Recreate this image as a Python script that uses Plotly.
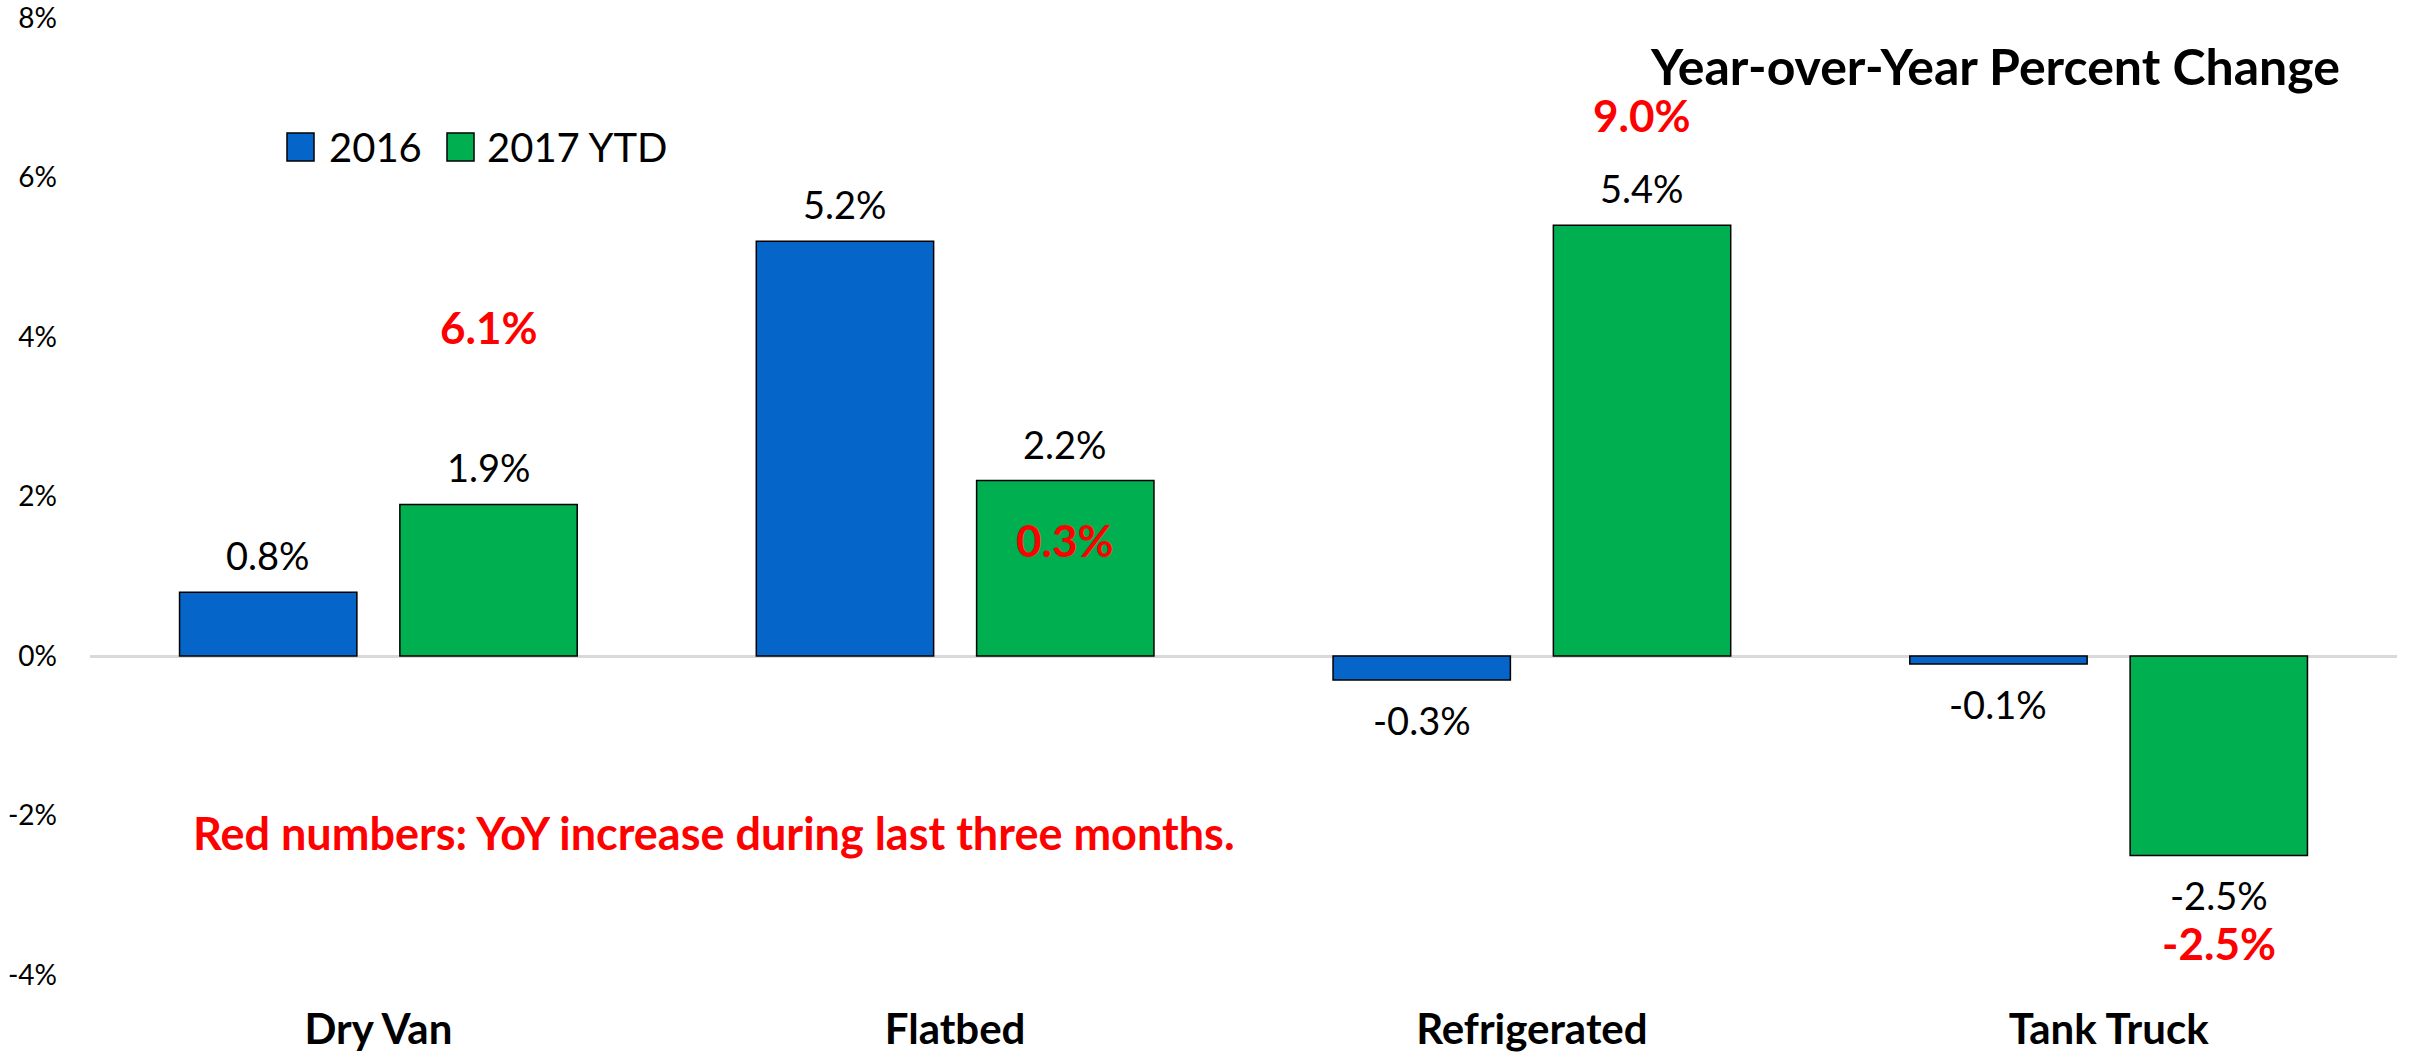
import plotly.graph_objects as go

categories = ["Dry Van", "Flatbed", "Refrigerated", "Tank Truck"]
values_2016 = [0.8, 5.2, -0.3, -0.1]
values_2017 = [1.9, 2.2, 5.4, -2.5]
series_names = ["2016", "2017 YTD"]
recent_yoy_labels = ["6.1%", "0.3%", "9.0%", "-2.5%"]   # red numbers
recent_yoy_label_y = [4.13, 1.46, 6.78, -3.6]            # where the red numbers sit
y_tick_vals = [-4, -2, 0, 2, 4, 6, 8]
y_tick_text = ["-4%", "-2%", "0%", "2%", "4%", "6%", "8%"]

BLUE = "#0565C8"
GREEN = "#00B050"
RED = "#FF0000"
FONT = "Lato, 'Open Sans', sans-serif"

W, H = 2410, 1052
ML, MR, MT, MB = 90, 13, 18, 77
BARGAP = 0.236
GROUPGAP = 0.195
plot_w = W - ML - MR
plot_h = H - MT - MB
cat_px = plot_w / len(categories)
slot_px = cat_px * (1 - BARGAP) / 2
shift = slot_px / 2

fig = go.Figure()
fig.add_trace(go.Bar(x=categories, y=values_2016, name=series_names[0],
                     marker=dict(color=BLUE, line=dict(color="black", width=1.5)),
                     showlegend=False))
fig.add_trace(go.Bar(x=categories, y=values_2017, name=series_names[1],
                     marker=dict(color=GREEN, line=dict(color="black", width=1.5)),
                     showlegend=False))

annotations = []
# black value labels
for vals, sgn in ((values_2016, -1), (values_2017, 1)):
    for c, v in zip(categories, vals):
        annotations.append(dict(
            x=c, y=v, xref="x", yref="y", text=f"{v:.1f}%", showarrow=False,
            xshift=sgn * shift, yshift=37 if v >= 0 else -40,
            font=dict(family=FONT, size=38, color="black"),
            xanchor="center", yanchor="middle"))
# red labels
for c, t, yy in zip(categories, recent_yoy_labels, recent_yoy_label_y):
    annotations.append(dict(
        x=c, y=yy, xref="x", yref="y", text=f"<b>{t}</b>", showarrow=False,
        xshift=shift, font=dict(family=FONT, size=44, color=RED),
        xanchor="center", yanchor="middle"))


def px_to_paper(px, py):
    return (px - ML) / plot_w, (H - MB - py) / plot_h


# title
tx, ty = px_to_paper(2342, 66)
annotations.append(dict(x=tx, y=ty, xref="paper", yref="paper",
                        text="<b>Year-over-Year Percent Change</b>", showarrow=False,
                        xanchor="right", yanchor="middle",
                        font=dict(family=FONT, size=50, color="black")))
# red note
nx, ny = px_to_paper(191, 833)
annotations.append(dict(x=nx, y=ny, xref="paper", yref="paper",
                        text="<b>Red numbers: YoY increase during last three months.</b>",
                        showarrow=False, xanchor="left", yanchor="middle",
                        font=dict(family=FONT, size=45, color=RED)))

# legend (custom, large swatches)
shapes = []
legend_items = [(series_names[0], BLUE, 287, 327), (series_names[1], GREEN, 447, 485)]
for name, col, sx, tx_px in legend_items:
    x0, y0 = px_to_paper(sx, 161)
    x1, y1 = px_to_paper(sx + 27, 133)
    shapes.append(dict(type="rect", xref="paper", yref="paper", x0=x0, x1=x1, y0=y0, y1=y1,
                       fillcolor=col, line=dict(color="black", width=1.5)))
    lx, ly = px_to_paper(tx_px, 147)
    annotations.append(dict(x=lx, y=ly, xref="paper", yref="paper", text=name,
                            showarrow=False, xanchor="left", yanchor="middle",
                            font=dict(family=FONT, size=40, color="black")))

fig.update_layout(
    width=W, height=H,
    margin=dict(l=ML, r=MR, t=MT, b=MB, pad=0, autoexpand=False),
    paper_bgcolor="white", plot_bgcolor="white",
    barmode="group", bargap=BARGAP, bargroupgap=GROUPGAP,
    font=dict(family=FONT, color="black"),
    annotations=annotations, shapes=shapes,
    showlegend=False,
    xaxis=dict(showgrid=False, showline=False, ticks="", automargin=False,
               tickfont=dict(family=FONT, size=42, color="black"),
               tickprefix="<b>", ticksuffix="</b>",
               ticklabelstandoff=26),
    yaxis=dict(range=[-4, 8], showgrid=False, showline=False, ticks="", automargin=False,
               tickvals=y_tick_vals, ticktext=y_tick_text,
               tickfont=dict(family=FONT, size=28, color="black"),
               ticklabeloverflow="allow",
               zeroline=True, zerolinecolor="#D9D9D9", zerolinewidth=3,
               ticklabelstandoff=32),
)

fig.write_html("out.html", config={"displayModeBar": False},
               post_script="document.body.style.margin='0';document.body.style.overflow='hidden';")
